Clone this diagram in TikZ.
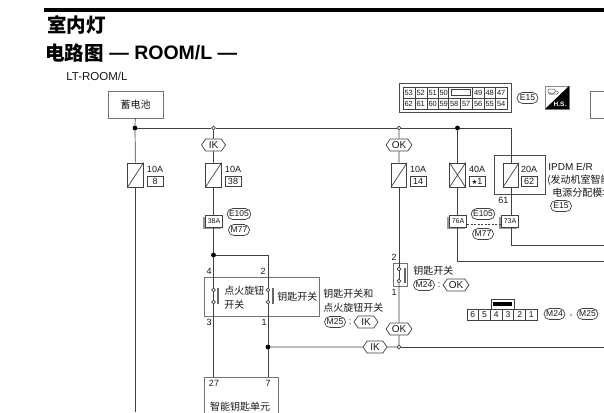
\documentclass[tikz,border=0pt]{standalone}
\usepackage{fontspec}
\setmainfont{Liberation Sans}
\newfontfamily\cjk{Noto Sans CJK SC}
\newfontfamily\sym{DejaVu Sans}
\usetikzlibrary{shapes.misc,shapes.symbols,shadows}
\definecolor{wire}{gray}{0.25}
\begin{document}
\begin{tikzpicture}[
		x=1pt, y=-1pt,
		line width=.7pt, color=wire,
		lbl/.style = {inner sep=0pt, text=black!90, font=\fontsize{9}{10}\selectfont},
		zh/.style = {lbl, font=\fontsize{10}{11}\cjk},
		dot/.style = {circle, fill=black, draw=black, inner sep=0pt, minimum size=4pt},
		opendot/.style = {circle, fill=white, draw=wire, inner sep=0pt, minimum size=3.8pt},
		fuse/.style = {draw, fill=white, inner sep=0pt, minimum width=15.5pt, minimum height=24pt},
		amp/.style = {draw, lbl, minimum width=16pt, minimum height=10.5pt},
		tag/.style = {draw, fill=white, lbl, shape=signal, signal to=east and west, signal pointer angle=110, inner xsep=1.5pt, inner ysep=1pt, minimum width=24pt, minimum height=12pt, font=\fontsize{10}{11}\selectfont},
		oval/.style = {draw, fill=white, lbl, rounded rectangle, inner xsep=1pt, inner ysep=1pt, minimum width=23pt, minimum height=11pt, font=\fontsize{8.5}{10}\selectfont},
		tab/.style = {draw, fill=white, lbl, minimum width=17.5pt, minimum height=12pt, font=\fontsize{7}{8}\selectfont, general shadow={fill=black!40, shadow xshift=-2pt, shadow yshift=-2pt}},
		panel/.style = {draw=black!55, line width=.9pt},
		cell/.style = {draw, lbl, inner sep=0pt, font=\fontsize{8.5}{10}\selectfont}
	]
	\useasboundingbox (0,0) rectangle (604,412);
	\clip (0,0) rectangle (604,412);
	\fill[white] (0,0) rectangle (604,412);
	% Heading.
	\fill[black] (44,8) rectangle (604,12);
	\node[inner sep=0pt, anchor=west, text=black, font=\fontsize{19.5}{21}\cjk\bfseries] (title) at (47,25) {室内灯};
	\node[inner sep=0pt, anchor=west, text=black, font=\fontsize{19.5}{21}\cjk\bfseries] (subtitle) at (45,53) {电路图};
	\node[inner sep=0pt, anchor=west, text=black, font=\fontsize{19.5}{21}\bfseries] (subname) at (109,53) {— ROOM/L —};
	\node[lbl, anchor=west, font=\fontsize{11.5}{13}\selectfont] (code) at (66,76) {LT-ROOM/L};
	% Supply.
	\node[draw, panel, zh, minimum width=55pt, minimum height=27pt] (bat) at (135.5,104.5) {蓄电池};
	\node[dot] (j1) at (135,128) {};
	\node[opendot] (j2) at (213.5,128) {};
	\node[opendot] (j3) at (399,128) {};
	\node[dot] (j4) at (457.5,128) {};
	\coordinate (busend) at (511,128);
	\coordinate (botl) at (135,412);
	% Tags.
	\node[tag] (ik1) at (213.5,145) {IK};
	\node[tag] (ok1) at (399,145) {OK};
	% Fuses.
	\node[panel, fill=white, draw=black!70, minimum width=51pt, minimum height=39pt, inner sep=0pt] (ipdm) at (520,174.5) {};
	\node[fuse] (f1) at (135.5,175) {};
	\node[fuse] (f2) at (213.5,175) {};
	\node[fuse] (f3) at (399,175) {};
	\node[fuse] (f4) at (457.5,175) {};
	\node[fuse] (f5) at (511,175) {};
	\foreach \f in {f1,f2,f3,f4,f5}
		\draw (\f.south west) -- (\f.north east);
	\draw (f4.north west) -- (f4.south east);
	\node[lbl] (a1) at (155,169) {10A};
	\node[amp] (b1) at (155,181.5) {8};
	\node[lbl] (a2) at (233,169) {10A};
	\node[amp] (b2) at (233,181.5) {38};
	\node[lbl] (a3) at (418,169) {10A};
	\node[amp] (b3) at (418,181.5) {14};
	\node[lbl] (a4) at (477,169) {40A};
	\node[amp] (b4) at (477,181.5) {{\sym\fontsize{6.5}{8}\selectfont ★}1};
	\node[lbl] (a5) at (529,169) {20A};
	\node[amp] (b5) at (529,181.5) {62};
	\node[lbl, anchor=west] (n61) at (498,200.5) {61};
	% IPDM text.
	\node[lbl, anchor=west, font=\fontsize{10}{11}\selectfont] (t1) at (548,167) {IPDM E/R};
	\node[zh, anchor=west] (t2) at (547,180) {(发动机室智能};
	\node[zh, anchor=west] (t3) at (552,193) {电源分配模块};
	\node[oval] (e15a) at (561,206) {E15};
	% Connectors.
	\node[tab] (c38) at (214,221) {38A};
	\node[oval] (e105a) at (239,214) {E105};
	\node[oval] (m77a) at (239,230) {M77};
	\node[tab] (c76) at (458,221) {76A};
	\node[tab] (c73) at (510,221) {73A};
	\node[oval] (e105b) at (483,214) {E105};
	\node[oval] (m77b) at (483,234) {M77};
	\draw[dash pattern=on 2pt off 1.5pt] (c76.east |- 0,224) -- (c73.west |- 0,224);
	\coordinate (w73) at (511,245);
	\coordinate (w76) at (457.5,261);
	\coordinate (end73) at (604,245);
	\coordinate (end76) at (604,261);
	% Ignition and key switch.
	\node[panel, minimum width=115pt, minimum height=39pt, inner sep=0pt] (sw) at (261.5,296.5) {};
	\node[dot] (j5) at (213.5,255) {};
	\coordinate (k2) at (268,255);
	\node[opendot] (s4) at (213.5,290) {};
	\node[opendot] (s3) at (213.5,302) {};
	\node[opendot] (s2) at (268,290) {};
	\node[opendot] (s1) at (268,302) {};
	\draw[line width=1.6pt, black!60] (218,288) -- (218,304);
	\draw[line width=1.6pt, black!60] (273,288) -- (273,304);
	\node[lbl] (p4) at (209,271) {4};
	\node[lbl] (p2) at (263,271) {2};
	\node[lbl] (p3) at (209,322) {3};
	\node[lbl] (p1) at (264,322) {1};
	\node[zh, anchor=west] (sa) at (224,291) {点火旋钮};
	\node[zh, anchor=west] (sb) at (224,305) {开关};
	\node[zh, anchor=west] (sc) at (277,297) {钥匙开关};
	\node[zh, anchor=west] (sd) at (323,294) {钥匙开关和};
	\node[zh, anchor=west] (se) at (323,308) {点火旋钮开关};
	\node[oval] (m25a) at (335,322) {M25};
	\node[lbl] (co1) at (350,322) {:};
	\node[tag] (ik2) at (366,322) {IK};
	% Door switch side.
	\node[panel, minimum width=14.5pt, minimum height=23pt, inner sep=0pt] (sm) at (400.5,274.5) {};
	\node[opendot] (m2) at (399,269) {};
	\node[opendot] (m1) at (399,281) {};
	\draw[line width=1.6pt, black!60] (405,268) -- (405,283);
	\node[lbl] (q2) at (394,257) {2};
	\node[lbl] (q1) at (394,292) {1};
	\node[zh, anchor=west] (sf) at (413,271) {钥匙开关};
	\node[oval] (m24a) at (424,285) {M24};
	\node[lbl] (co2) at (439,285) {:};
	\node[tag] (ok2) at (456,285) {OK};
	\node[tag] (ok3) at (399,329) {OK};
	% Lower bus.
	\node[dot] (j6) at (268,347) {};
	\node[opendot] (j7) at (399,347) {};
	\node[tag] (ik3) at (375,347) {IK};
	\coordinate (end47) at (604,347);
	% Smart key unit.
	\node[panel, minimum width=74pt, minimum height=50pt, inner sep=0pt] (unit) at (241,402) {};
	\coordinate (u27) at (213.5,377);
	\coordinate (u7) at (268,377);
	\node[lbl] (r27) at (214,383) {27};
	\node[lbl] (r7) at (268,383) {7};
	\node[zh] (un) at (240,407) {智能钥匙单元};
	% Wires.
	\draw (bat) -- (j1);
	\draw (j1) -- (f1);
	\draw (f1) -- (f1 |- botl);
	\draw (j1) -- (j2);
	\draw (j2) -- (j3);
	\draw (j3) -- (j4);
	\draw (j4) -- (busend) -- (f5);
	\draw (j2) -- (ik1);
	\draw (ik1) -- (f2);
	\draw (f2) -- (f2 |- c38.north);
	\draw (f2 |- c38.south) -- (j5);
	\draw (j5) -- (s4);
	\draw (s4) -- (s3);
	\draw (s3) -- (u27);
	\draw (j5) -- (k2) -- (s2);
	\draw (s2) -- (s1);
	\draw (s1) -- (j6);
	\draw (j6) -- (u7);
	\draw (j3) -- (ok1);
	\draw (ok1) -- (f3);
	\draw (f3) -- (m2);
	\draw (m2) -- (m1);
	\draw (m1) -- (ok3);
	\draw (ok3) -- (j7);
	\draw (j4) -- (f4);
	\draw (f4) -- (f4 |- c76.north);
	\draw (f4 |- c76.south) -- (w76) -- (end76);
	\draw (f5) -- (f5 |- c73.north);
	\draw (f5 |- c73.south) -- (w73) -- (end73);
	\draw (j6) -- (ik3);
	\draw (ik3) -- (j7);
	\draw (j7) -- (end47);
	% Connector faces.
	\draw[line width=1pt, draw=black!70] (399,83) rectangle (511,112);
	\draw (403,87) rectangle (507,109);
	\draw (403,98) -- (507,98);
	\foreach \x/\t in {403/53,415/52,427/51,438/50,472.5/49,484/48,495.5/47}
		\node[lbl, font=\fontsize{7.5}{8}\selectfont] (top\t) at (\x+5.7,92.5) {\t};
	\foreach \x/\t in {403/62,415/61,427/60,438/59,448.5/58,460.5/57,472.5/56,484/55,495.5/54}
		\node[lbl, font=\fontsize{7.5}{8}\selectfont] (bot\t) at (\x+5.7,103.5) {\t};
	\foreach \x in {415,427,438,448.5,472.5,484,495.5}
		\draw (\x,87) -- (\x,109);
	\foreach \x in {460.5}
		\draw (\x,98) -- (\x,109);
	\draw (451.5,89.5) rectangle (470,95);
	\node[oval] (e15b) at (527.5,98) {E15};
	% H.S. mark.
	\draw[black!45, line width=.5pt] (545,86) rectangle (569,109);
	\fill[black] (569,86) -- (569,109) -- (545,109) -- cycle;
	\draw[black!70, line width=.5pt, rounded corners=1pt] (548,93) rectangle (555,89) (555,91) -- (558,91) -- (558,94) -- (549,94);
	\node[inner sep=0pt, text=white, font=\fontsize{6.5}{8}\bfseries] (hs) at (560,104) {H.S.};
	% Clipped box.
	\draw[panel] (590,91) rectangle (620,118);
	% Six pin connector.
	\draw (491,309) -- (491,299) -- (514,299) -- (514,309);
	\fill[black] (493,302) rectangle (512,305.5);
	\foreach \i/\t in {0/6,1/5,2/4,3/3,4/2,5/1}
		\node[cell, minimum width=11.7pt, minimum height=11pt] (pin\t) at (472.85+11.7*\i,314.5) {\t};
	\node[oval] (m24b) at (554.5,314) {M24};
	\node[lbl] (co3) at (571,316) {,};
	\node[oval] (m25b) at (587.5,314) {M25};
\end{tikzpicture}
\end{document}
